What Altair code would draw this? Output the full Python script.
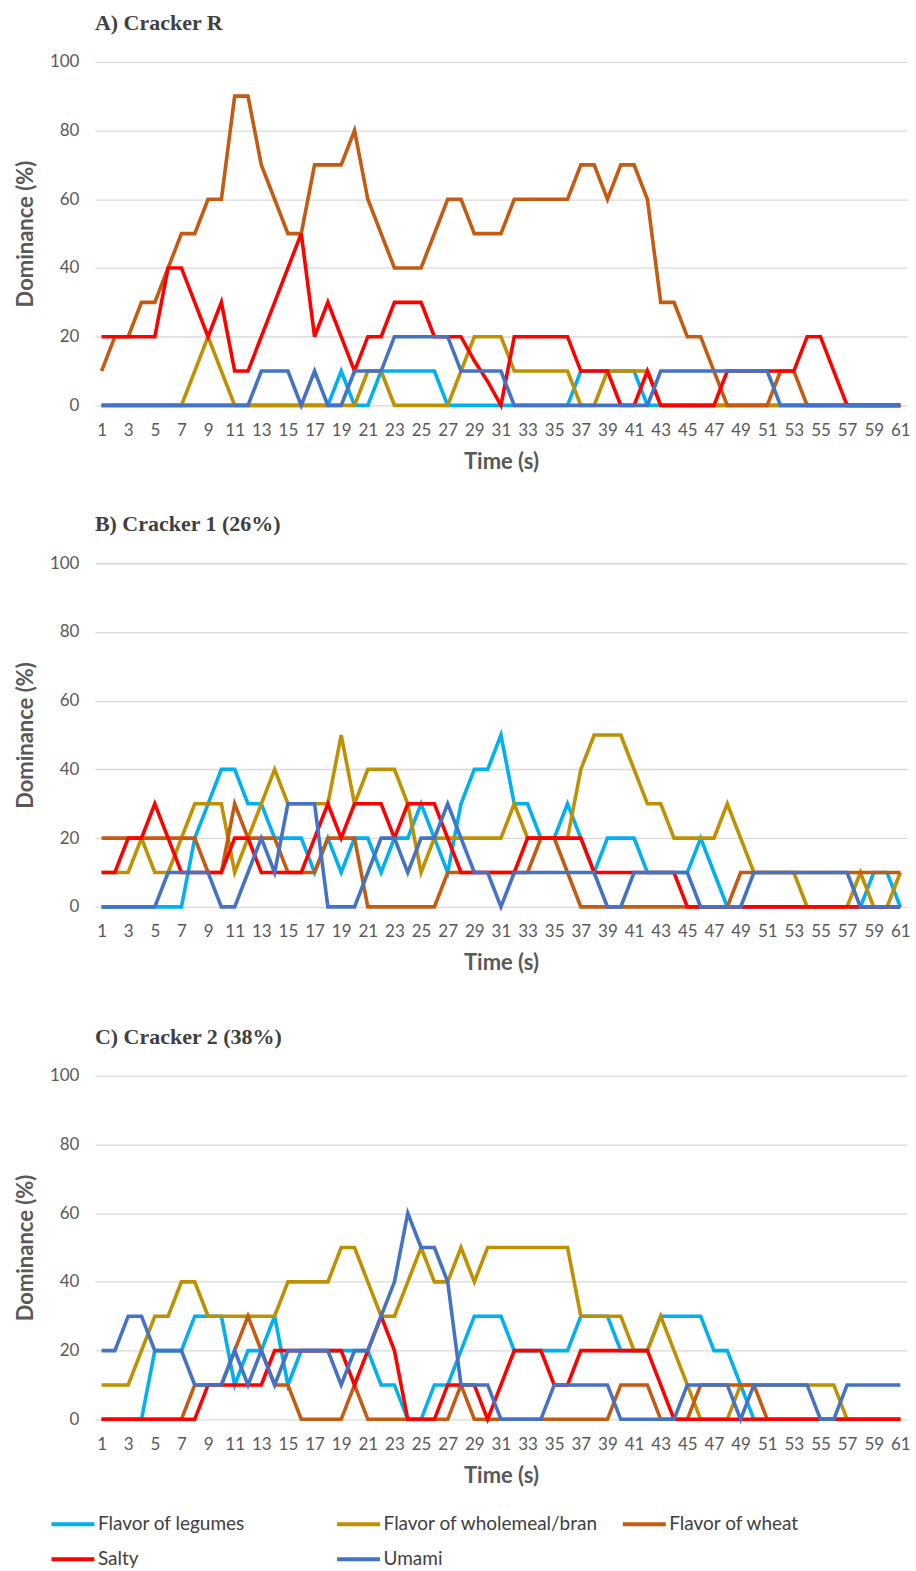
import altair as alt
import pandas as pd

# Time points (s)
t = list(range(1, 62))

series = ["Flavor of legumes", "Flavor of wholemeal/bran", "Flavor of wheat", "Salty", "Umami"]
colors = ["#00B0F0", "#BF9000", "#C55A11", "#FF0000", "#4472C4"]

# ---------------- A) Cracker R ----------------
a_legumes = [0, 0, 0, 0, 0, 0, 0, 0, 0, 0,
             0, 0, 0, 0, 0, 0, 0, 0, 10, 0,
             0, 10, 10, 10, 10, 10, 0, 0, 0, 0,
             0, 0, 0, 0, 0, 0, 10, 10, 10, 10,
             10, 0, 0, 0, 0, 0, 0, 0, 0, 0,
             0, 0, 0, 0, 0, 0, 0, 0, 0, 0, 0]
a_wholemeal = [0, 0, 0, 0, 0, 0, 0, 10, 20, 10,
               0, 0, 0, 0, 0, 0, 0, 0, 0, 0,
               10, 10, 0, 0, 0, 0, 0, 10, 20, 20,
               20, 10, 10, 10, 10, 10, 0, 0, 10, 10,
               10, 10, 0, 0, 0, 0, 0, 0, 0, 0,
               0, 0, 0, 0, 0, 0, 0, 0, 0, 0, 0]
a_wheat = [10, 20, 20, 30, 30, 40, 50, 50, 60, 60,
           90, 90, 70, 60, 50, 50, 70, 70, 70, 80,
           60, 50, 40, 40, 40, 50, 60, 60, 50, 50,
           50, 60, 60, 60, 60, 60, 70, 70, 60, 70,
           70, 60, 30, 30, 20, 20, 10, 0, 0, 0,
           0, 10, 10, 0, 0, 0, 0, 0, 0, 0, 0]
a_salty = [20, 20, 20, 20, 20, 40, 40, 30, 20, 30,
           10, 10, 20, 30, 40, 50, 20, 30, 20, 10,
           20, 20, 30, 30, 30, 20, 20, 20, 13, 7,
           0, 20, 20, 20, 20, 20, 10, 10, 10, 0,
           0, 10, 0, 0, 0, 0, 0, 10, 10, 10,
           10, 10, 10, 20, 20, 10, 0, 0, 0, 0, 0]
a_umami = [0, 0, 0, 0, 0, 0, 0, 0, 0, 0,
           0, 0, 10, 10, 10, 0, 10, 0, 0, 10,
           10, 10, 20, 20, 20, 20, 20, 10, 10, 10,
           10, 0, 0, 0, 0, 0, 0, 0, 0, 0,
           0, 0, 10, 10, 10, 10, 10, 10, 10, 10,
           10, 0, 0, 0, 0, 0, 0, 0, 0, 0, 0]

# ---------------- B) Cracker 1 (26%) ----------------
b_legumes = [0, 0, 0, 0, 0, 0, 0, 20, 30, 40,
             40, 30, 30, 20, 20, 20, 10, 20, 10, 20,
             20, 10, 20, 20, 30, 20, 10, 30, 40, 40,
             50, 30, 30, 20, 20, 30, 20, 10, 20, 20,
             20, 10, 10, 10, 10, 20, 10, 0, 0, 0,
             0, 0, 0, 0, 0, 0, 0, 0, 10, 10, 0]
b_wholemeal = [10, 10, 10, 20, 10, 10, 20, 30, 30, 30,
               10, 20, 30, 40, 30, 30, 30, 30, 50, 30,
               40, 40, 40, 30, 10, 20, 20, 20, 20, 20,
               20, 30, 20, 20, 20, 20, 40, 50, 50, 50,
               40, 30, 30, 20, 20, 20, 20, 30, 20, 10,
               10, 10, 10, 0, 0, 0, 0, 10, 0, 0, 10]
b_wheat = [20, 20, 20, 20, 20, 20, 20, 20, 10, 10,
           30, 20, 20, 20, 10, 10, 10, 20, 20, 20,
           0, 0, 0, 0, 0, 0, 10, 10, 10, 10,
           10, 10, 10, 20, 20, 10, 0, 0, 0, 0,
           0, 0, 0, 0, 0, 0, 0, 0, 10, 10,
           10, 10, 10, 10, 10, 10, 10, 10, 10, 10, 10]
b_salty = [10, 10, 20, 20, 30, 20, 10, 10, 10, 10,
           20, 20, 10, 10, 10, 10, 20, 30, 20, 30,
           30, 30, 20, 30, 30, 30, 20, 10, 10, 10,
           10, 10, 20, 20, 20, 20, 20, 10, 10, 10,
           10, 10, 10, 10, 0, 0, 0, 0, 0, 0,
           0, 0, 0, 0, 0, 0, 0, 0, 0, 0, 0]
b_umami = [0, 0, 0, 0, 0, 10, 10, 10, 10, 0,
           0, 10, 20, 10, 30, 30, 30, 0, 0, 0,
           10, 20, 20, 10, 20, 20, 30, 20, 10, 10,
           0, 10, 10, 10, 10, 10, 10, 10, 0, 0,
           10, 10, 10, 10, 10, 0, 0, 0, 0, 10,
           10, 10, 10, 10, 10, 10, 10, 0, 0, 0, 0]

# ---------------- C) Cracker 2 (38%) ----------------
c_legumes = [0, 0, 0, 0, 20, 20, 20, 30, 30, 30,
             10, 20, 20, 30, 10, 20, 20, 20, 20, 20,
             20, 10, 10, 0, 0, 10, 10, 20, 30, 30,
             30, 20, 20, 20, 20, 20, 30, 30, 30, 20,
             20, 20, 30, 30, 30, 30, 20, 20, 10, 0,
             0, 0, 0, 0, 0, 0, 0, 0, 0, 0, 0]
c_wholemeal = [10, 10, 10, 20, 30, 30, 40, 40, 30, 30,
               30, 30, 30, 30, 40, 40, 40, 40, 50, 50,
               40, 30, 30, 40, 50, 40, 40, 50, 40, 50,
               50, 50, 50, 50, 50, 50, 30, 30, 30, 30,
               20, 20, 30, 20, 10, 0, 0, 0, 10, 10,
               10, 10, 10, 10, 10, 10, 0, 0, 0, 0, 0]
c_wheat = [0, 0, 0, 0, 0, 0, 0, 10, 10, 10,
           20, 30, 20, 10, 10, 0, 0, 0, 0, 10,
           0, 0, 0, 0, 0, 0, 0, 10, 0, 0,
           0, 0, 0, 0, 0, 0, 0, 0, 0, 10,
           10, 10, 0, 0, 0, 10, 10, 10, 10, 10,
           0, 0, 0, 0, 0, 0, 0, 0, 0, 0, 0]
c_salty = [0, 0, 0, 0, 0, 0, 0, 0, 10, 10,
           10, 10, 10, 20, 20, 20, 20, 20, 20, 10,
           20, 30, 20, 0, 0, 0, 10, 10, 10, 0,
           10, 20, 20, 20, 10, 10, 20, 20, 20, 20,
           20, 20, 10, 0, 0, 0, 0, 0, 0, 0,
           0, 0, 0, 0, 0, 0, 0, 0, 0, 0, 0]
c_umami = [20, 20, 30, 30, 20, 20, 20, 10, 10, 10,
           20, 10, 20, 10, 20, 20, 20, 20, 10, 20,
           20, 30, 40, 60, 50, 50, 40, 10, 10, 10,
           0, 0, 0, 0, 10, 10, 10, 10, 10, 0,
           0, 0, 0, 0, 10, 10, 10, 10, 0, 10,
           10, 10, 10, 10, 0, 0, 10, 10, 10, 10, 10]

panels = [
    ("A) Cracker R", [a_legumes, a_wholemeal, a_wheat, a_salty, a_umami]),
    ("B) Cracker 1 (26%)", [b_legumes, b_wholemeal, b_wheat, b_salty, b_umami]),
    ("C) Cracker 2 (38%)", [c_legumes, c_wholemeal, c_wheat, c_salty, c_umami]),
]

color_scale = alt.Scale(domain=series, range=colors)
legend = alt.Legend(
    title=None, orient="none", legendX=-46, legendY=1440,
    direction="horizontal", columns=3, gridAlign="all",
    columnPadding=16, rowPadding=1,
    symbolType="stroke", symbolSize=1850, symbolStrokeWidth=4,
    labelFont="Lato", labelFontSize=19, labelColor="#404040",
    labelLimit=400, labelOffset=1,
)


def panel(title, values):
    # rows are written series by series so that the umami line is drawn last (on top)
    rows = []
    for name, vals in zip(series, values):
        for ti, v in zip(t, vals):
            rows.append({"time": ti, "dominance": v, "attribute": name})
    df = pd.DataFrame(rows)
    return alt.Chart(df).mark_line(strokeWidth=3.6).encode(
        x=alt.X("time:Q", scale=alt.Scale(domain=[0.5, 61.5], nice=False),
                axis=alt.Axis(title="Time (s)", values=list(range(1, 62, 2)),
                              grid=False, labelFlush=False)),
        y=alt.Y("dominance:Q", scale=alt.Scale(domain=[0, 100], nice=False),
                axis=alt.Axis(title="Dominance (%)", values=list(range(0, 101, 20)))),
        color=alt.Color("attribute:N", scale=color_scale, legend=legend, sort=series),
    ).properties(
        width=813, height=344,
        title=alt.TitleParams(text=title, anchor="start", frame="group", dx=0,
                              font="Liberation Serif", fontSize=22, fontWeight="bold",
                              color="#404040", offset=18),
    )


pa, pb, pc = [panel(name, vals) for name, vals in panels]
chart = alt.vconcat(alt.vconcat(pa, pb, spacing=41), pc, spacing=52).properties(
    padding={"left": 14, "top": 11, "right": 5, "bottom": 5},
).configure_view(stroke=None).configure_axis(
    labelFont="Lato", labelFontSize=17, labelColor="#595959",
    titleFont="Lato", titleFontSize=22, titleFontWeight="bold", titleColor="#595959",
    gridColor="#d9d9d9", gridWidth=1.3, domain=False, ticks=False,
).configure_axisX(labelPadding=17, titlePadding=13).configure_axisY(
    labelPadding=16, titlePadding=12
)

chart.save("out.html", embed_options={"renderer": "svg", "actions": False})
